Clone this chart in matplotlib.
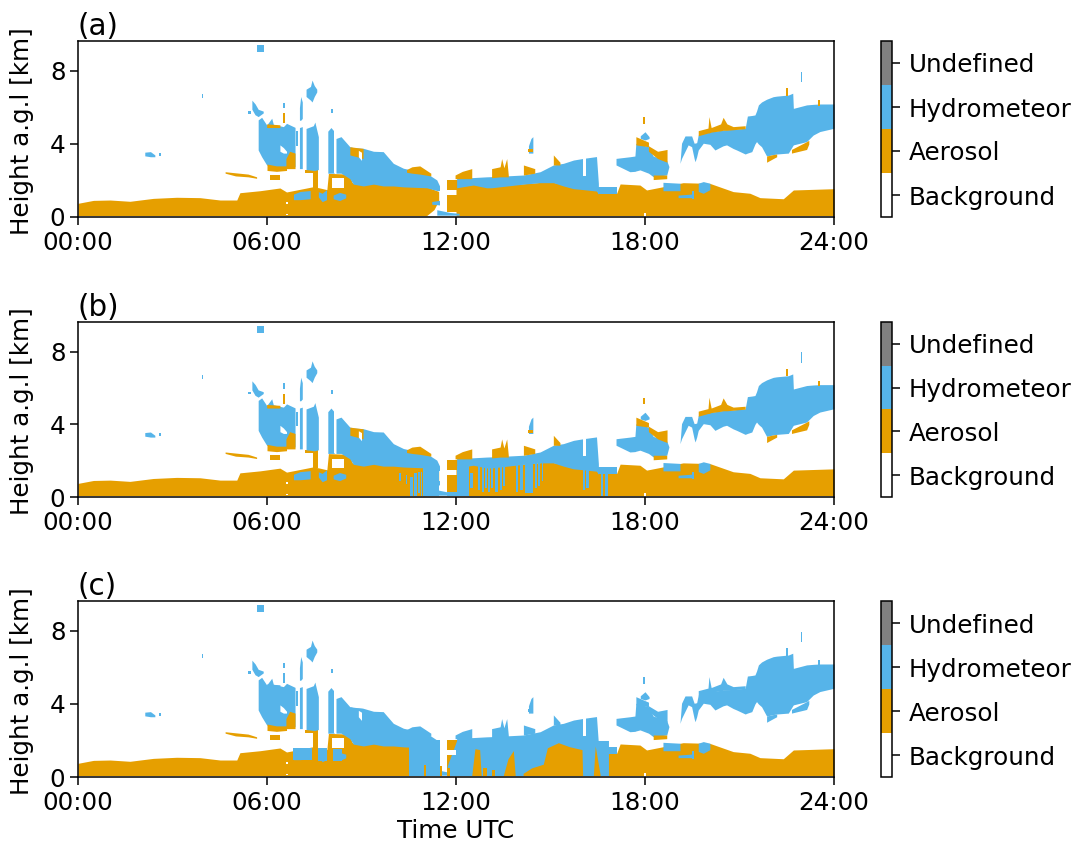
import matplotlib
matplotlib.use('Agg')
import matplotlib.pyplot as plt
from matplotlib.colors import ListedColormap, BoundaryNorm
from matplotlib.cm import ScalarMappable

class_labels = ['Background', 'Aerosol', 'Hydrometeor', 'Undefined']
class_colors = ['#FFFFFF', '#E69F00', '#56B4E9', '#808080']
hour_ticks = [0, 6, 12, 18, 24]
hour_labels = ['00:00', '06:00', '12:00', '18:00', '24:00']
height_ticks = [0, 4, 8]
panel_names = ['(a)', '(b)', '(c)']

# every layer below is a list of (hour, base km, top km)
boundary_morning = [(0, .08, .75), (.49, .08, .91), (1.02, .08, .93), (1.65, .08, .86), (2.39, .08, 1.02),
                    (3.13, .08, 1.08), (3.87, .08, 1.06), (4.51, .08, .93), (5.04, .08, .93), (5.14, .08, 1.33),
                    (5.78, .08, 1.44), (6.41, .08, 1.59), (6.62, .08, 1.37), (7.47, .08, 1.66), (7.65, .08, 1.6),
                    (7.9, .08, 1.5), (7.95, .08, 2.39), (8.6, .08, 2.35), (8.7, .08, 1.9), (8.74, .08, 1.84),
                    (9.38, .08, 1.84), (9.46, .08, 2.3), (9.55, .08, 1.85), (9.8, .08, 2.25), (9.9, .08, 1.8),
                    (10.01, .08, 1.75), (11.07, .08, 1.66), (11.3, .4, 1.5), (11.45, .9, 1.4)]
boundary_afternoon = [(12.0, .08, 1.66), (12.44, .08, 1.84), (12.97, .08, 1.66), (13.61, .08, 1.75), (14.99, .08, 1.94),
                      (15.94, .08, 1.57), (16.46, .08, 1.48), (16.52, .08, 1.3), (17.1, .08, 1.3), (17.21, .08, 1.81),
                      (17.84, .08, 1.75), (18.05, .08, 1.48), (18.58, .08, 1.66), (19.21, .08, 1.88), (20.06, .08, 1.84),
                      (20.8, .08, 1.39), (21.33, .08, 1.3), (21.65, .08, 1.06), (22.39, .08, 1.0), (22.71, .08, 1.48),
                      (23.98, .08, 1.55), (24, .08, 1.55)]
aerosol_near_noon_1 = [(11.7, 1.48, 2.03), (12.13, 1.48, 2.03)]
aerosol_near_noon_2 = [(11.7, .3, 1.2), (12.05, .3, 1.2)]
lofted_1 = [(4.67, 2.4, 2.48), (5.0, 2.25, 2.42), (5.4, 2.2, 2.35), (5.67, 2.12, 2.2)]
lofted_2 = [(6.1, 2.05, 2.3), (6.4, 2.05, 2.3)]
lofted_3 = [(7.2, 2.4, 2.58), (7.47, 2.4, 2.58)]
lofted_4 = [(7.47, 1.6, 2.58), (7.63, 1.6, 2.58)]
aerosol_under_1 = [(6.0, 2.55, 2.9), (6.3, 2.5, 2.8), (6.62, 2.55, 2.8)]
aerosol_under_2 = [(6.6, 2.65, 3.2), (6.72, 2.65, 3.6), (6.89, 2.65, 3.5)]
aerosol_under_3 = [(18.26, 2.05, 2.3), (18.69, 2.1, 2.3)]

cloud_speck_1 = [(2.12, 3.35, 3.55), (2.3, 3.3, 3.58), (2.44, 3.3, 3.4)]
cloud_speck_2 = [(2.58, 3.35, 3.5), (2.62, 3.35, 3.5)]
cloud_speck_3 = [(3.93, 6.52, 6.74), (3.98, 6.52, 6.74)]
cloud_speck_4 = [(5.69, 9.06, 9.42), (5.9, 9.06, 9.42)]
cloud_speck_5 = [(5.4, 5.65, 5.8), (5.48, 5.65, 5.8)]
cloud_speck_6 = [(5.52, 5.9, 6.4), (5.62, 5.6, 6.2), (5.72, 5.5, 5.9), (5.88, 5.7, 5.8)]
cloud_speck_7 = [(7.24, 6.6, 7.0), (7.38, 6.4, 7.15), (7.43, 6.3, 7.5), (7.5, 6.6, 7.2), (7.58, 6.85, 7.0)]
cloud_speck_8 = [(6.52, 5.95, 6.26), (6.57, 5.95, 6.26)]
cloud_speck_9 = [(7.03, 5.3, 6.0), (7.07, 5.3, 6.6), (7.12, 5.4, 6.3)]
cloud_speck_10 = [(8.02, 5.7, 5.9), (8.08, 5.7, 5.9)]
cloud_speck_11 = [(14.3, 3.5, 3.9), (14.38, 3.5, 4.3), (14.44, 3.5, 4.4)]
cloud_block = [(5.72, 3.67, 5.32), (5.83, 3.3, 5.46), (5.99, 2.85, 5.04), (6.15, 2.75, 5.41), (6.2, 2.72, 5.08),
               (6.52, 2.72, 4.95), (6.62, 2.76, 5.13), (6.89, 2.76, 4.91)]
cloud_column_1 = [(6.93, 3.9, 4.7), (6.97, 3.9, 4.7)]
cloud_column_2 = [(7.03, 2.65, 4.9), (7.12, 2.65, 4.95)]
cloud_column_3 = [(7.24, 2.6, 4.85), (7.47, 2.55, 5.0), (7.52, 2.55, 5.2), (7.63, 2.6, 4.4)]
cloud_column_4 = [(7.93, 2.4, 4.7), (8.03, 2.4, 4.9), (8.13, 2.4, 4.7)]
cloud_morning = [(8.19, 2.4, 4.3), (8.35, 2.4, 4.4), (8.63, 2.1, 3.85), (8.74, 1.8, 3.8), (9.06, 1.7, 3.76),
                 (9.38, 1.8, 3.6), (9.69, 1.7, 3.58), (10.01, 1.7, 2.94), (10.33, 1.65, 2.67), (11.07, 1.6, 2.39),
                 (11.39, 1.45, 2.03), (11.49, 1.45, 1.66)]
cloud_midday = [(12.02, 1.6, 2.12), (12.55, 1.75, 2.16), (12.97, 1.6, 2.2), (13.13, 1.6, 2.21), (14.14, 1.8, 2.3),
                (14.67, 1.88, 2.48), (15.09, 1.88, 2.85), (15.41, 1.7, 2.94), (15.73, 1.55, 3.12), (16.04, 1.5, 3.21),
                (16.46, 1.42, 3.31), (16.52, 1.25, 1.84)]
cloud_midday_tail = [(16.52, 1.25, 1.66), (17.1, 1.25, 1.66)]
cloud_evening = [(17.08, 2.85, 3.21), (17.52, 2.48, 3.3), (17.68, 2.5, 3.34), (17.71, 2.52, 4.04), (17.84, 2.58, 3.98),
                 (18.11, 2.4, 3.85), (18.26, 2.21, 3.34), (18.69, 2.3, 3.09), (18.76, 2.76, 2.76)]
cloud_evening_top = [(17.85, 4.3, 4.45), (18.0, 4.22, 4.67), (18.13, 4.3, 4.4)]
cloud_night = [(19.11, 2.94, 2.94), (19.16, 3.21, 4.04), (19.27, 3.6, 4.44), (19.37, 3.95, 4.44), (19.48, 3.85, 4.44),
               (19.56, 3.2, 4.04), (19.59, 3.03, 4.05), (19.64, 3.3, 4.07), (19.69, 3.67, 4.49), (19.85, 4.04, 4.6),
               (20.06, 3.98, 4.68), (20.22, 3.67, 4.7), (20.48, 3.9, 4.77), (20.59, 3.95, 4.78), (20.8, 3.75, 4.8),
               (20.91, 3.67, 4.82), (21.18, 3.45, 4.86), (21.25, 3.5, 5.53), (21.39, 3.58, 5.56), (21.49, 4.0, 5.59),
               (21.54, 4.13, 5.8), (21.6, 4.0, 6.14), (21.7, 3.85, 6.3), (21.86, 3.34, 6.45), (22.07, 3.42, 6.59),
               (22.18, 3.45, 6.62), (22.55, 3.5, 6.68), (22.69, 3.9, 6.78), (22.71, 3.95, 5.95), (23.13, 4.13, 6.14),
               (23.34, 4.49, 6.17), (23.55, 4.68, 6.19), (24, 4.86, 6.19)]
cloud_sliver = [(22.94, 7.4, 7.96), (22.99, 7.4, 7.96)]
cloud_low_1 = [(6.84, .95, 1.25), (7.05, .95, 1.4), (7.37, 1.0, 1.45)]
cloud_low_2 = [(7.63, 1.1, 1.39), (7.75, .84, 1.3), (7.89, .95, 1.5)]
cloud_low_3 = [(8.1, 1.0, 1.2), (8.3, .9, 1.35), (8.5, 1.05, 1.25)]
cloud_low_4 = [(11.23, .7, .85), (11.55, .65, .93)]
cloud_low_5 = [(11.39, .1, .4), (11.8, .1, .25), (12.1, .1, .2)]
cloud_low_6 = [(18.57, 1.44, 1.9), (19.11, 1.44, 1.85)]
cloud_low_7 = [(19.69, 1.4, 1.85), (19.85, 1.3, 1.94), (20.06, 1.5, 1.85)]
cloud_low_8 = [(19.05, 1.06, 1.2), (19.5, 1.06, 1.26)]
cloud_low_9 = [(19.5, 1.0, 1.4), (19.56, 1.0, 1.4)]

cap_1 = [(8.63, 3.4, 3.85), (8.85, 3.3, 3.8), (9.05, 3.2, 3.76)]
cap_2 = [(10.43, 2.45, 2.6), (10.6, 2.4, 2.75), (10.85, 2.35, 2.8), (11.2, 2.25, 2.4)]
cap_3 = [(5.99, 4.9, 5.1), (6.41, 4.9, 5.05)]
cap_4 = [(6.51, 5.13, 5.68), (6.57, 5.13, 5.68)]
cap_5 = [(11.97, 2.1, 2.3), (12.2, 2.1, 2.5), (12.5, 2.1, 2.65)]
cap_6 = [(13.13, 2.15, 2.65), (13.4, 2.2, 2.75), (13.45, 2.2, 3.2), (13.52, 2.2, 2.7), (13.61, 2.2, 3.2), (13.66, 2.2, 2.3)]
cap_7 = [(14.14, 2.3, 2.85), (14.5, 2.4, 2.65)]
cap_8 = [(15.09, 2.85, 3.4), (15.3, 2.85, 3.0)]
cap_9 = [(14.3, 3.55, 3.7), (14.45, 3.55, 3.7)]
cap_10 = [(17.71, 3.95, 4.4), (18.11, 3.85, 4.1)]
cap_11 = [(18.11, 3.6, 3.9), (18.4, 3.2, 3.6), (18.7, 3.0, 3.7)]
cap_12 = [(17.95, 5.1, 5.45), (17.99, 5.1, 5.45)]
cap_13 = [(19.69, 4.45, 4.73), (20.0, 4.6, 4.87), (20.03, 4.6, 5.5), (20.1, 4.65, 4.9), (20.4, 4.72, 5.1),
          (20.48, 4.75, 5.46), (20.6, 4.75, 5.1), (20.8, 4.78, 4.95), (21.18, 4.84, 5.0)]
cap_14 = [(21.86, 3.0, 3.34), (22.07, 3.2, 3.42), (22.18, 3.3, 3.45)]
cap_15 = [(22.65, 3.5, 3.7), (23.13, 3.7, 4.13), (23.2, 4.0, 4.2)]
cap_16 = [(22.48, 6.65, 7.05), (22.53, 6.65, 7.05)]
cap_17 = [(23.5, 6.1, 6.4), (23.56, 6.1, 6.4)]

hole_1 = [(6.41, 3.6, 3.95), (6.52, 3.5, 3.8), (6.62, 3.5, 3.6)]
hole_2 = [(8.05, 1.57, 2.12), (8.43, 1.57, 2.12)]
hole_3 = [(8.9, 3.3, 3.65), (9.0, 3.1, 3.55)]
hole_4 = [(11.5, .6, 2.3), (11.72, .6, 2.3)]
hole_5 = [(11.72, 1.2, 1.48), (12.0, 1.2, 1.48)]
hole_6 = [(16.04, 2.25, 3.21), (16.12, 2.25, 3.21)]
hole_7 = [(6.6, .1, .15), (6.66, .1, .15)]
hole_8 = [(6.6, .72, .8), (6.66, .72, .8)]
hole_9 = [(17.97, .08, .2), (18.02, .08, .2)]
hole_10 = [(7.0, 2.7, 4.95), (7.03, 2.7, 4.95)]
hole_11 = [(8.13, 2.4, 4.9), (8.19, 2.4, 4.9)]

# (b): hydrometeor streaks reaching down through the aerosol layer
streak_start = [10.2, 10.4, 10.54, 10.67, 10.8, 10.9, 10.96, 11.72, 12.02, 12.46,
                12.71, 12.82, 12.92, 13.03, 13.12, 13.24, 13.4, 13.5, 13.92, 14.02, 14.19, 14.51, 14.6,
                14.72, 16.04, 16.14, 16.59, 16.72]
streak_end = [10.24, 10.44, 10.62, 10.75, 10.86, 10.93, 11.46, 12.02, 12.42, 12.53,
              12.76, 12.88, 12.97, 13.08, 13.19, 13.34, 13.46, 13.56, 13.98, 14.13, 14.46, 14.56, 14.67,
              14.77, 16.1, 16.23, 16.66, 16.84]
streak_top = [1.3, 1.2, 1.11, 1.3, 1.39, 1.39, 1.66, .3, 1.7, 1.3,
              1.7, 1.7, 1.7, 1.7, 1.7, 1.75, 1.75, 1.75, 1.8, 1.8, 1.85, 1.9, 1.9,
              1.9, 1.6, 1.6, 1.45, 1.45]
streak_bottom = [.9, .7, .08, .08, .2, .08, .08, .08, .08, .5,
                 .4, .3, .5, .3, .5, .3, .4, .6, .3, .4, .2, .5, .6,
                 .9, .4, .5, .08, .08]

# (c): hydrometeor replaces most of the aerosol under the midday cloud
sheet_1 = [(10.5, .08, 2.0), (11.49, .08, 2.0)]
sheet_2 = [(11.72, .08, .6), (12.02, .08, 2.0), (16.84, .08, 2.0)]
sheet_3 = [(6.84, .95, 1.6), (7.42, .95, 1.6)]
sheet_4 = [(7.63, .85, 1.6), (7.9, .85, 1.6)]
sheet_5 = [(8.08, .9, 1.55), (8.37, .9, 1.55)]
spike_1 = [(12.5, .08, .08), (12.6, .08, 1.55), (12.75, .08, 1.5), (12.8, .08, .08)]
spike_2 = [(12.87, .08, .47), (12.97, .08, .47)]
spike_3 = [(13.13, .08, .38), (13.24, .08, .38)]
spike_4 = [(13.5, .08, .08), (13.65, .08, 1.0), (13.82, .08, 1.45), (13.88, .08, .08)]
spike_5 = [(14.13, .08, .2), (14.4, .08, .5), (14.77, .08, .7), (14.9, .08, 1.6), (15.25, .08, 1.88),
           (15.6, .08, 1.66), (16.0, .08, 1.5), (16.02, .08, .08)]
spike_6 = [(16.36, .08, .08), (16.42, .08, 1.7), (16.58, .08, .08)]
spike_7 = [(11.0, .08, .66), (11.06, .08, .66)]
spike_8 = [(11.49, .08, 1.85), (11.55, .08, 1.85)]
spike_9 = [(11.7, .08, .47), (11.8, .08, .47)]

aerosol_shared = [boundary_morning, boundary_afternoon, aerosol_near_noon_1, aerosol_near_noon_2, lofted_1,
                  lofted_2, lofted_3, lofted_4]
aerosol_under = [aerosol_under_1, aerosol_under_2, aerosol_under_3]
hydro_shared = [cloud_speck_1, cloud_speck_2, cloud_speck_3, cloud_speck_4, cloud_speck_5, cloud_speck_6,
                cloud_speck_7, cloud_speck_8, cloud_speck_9, cloud_speck_10, cloud_speck_11, cloud_block, cloud_column_1,
                cloud_column_2, cloud_column_3, cloud_column_4, cloud_morning, cloud_midday, cloud_midday_tail,
                cloud_evening, cloud_evening_top, cloud_night, cloud_sliver, cloud_low_1, cloud_low_2, cloud_low_3,
                cloud_low_4, cloud_low_5, cloud_low_6, cloud_low_7, cloud_low_8, cloud_low_9]
caps = [cap_1, cap_2, cap_3, cap_4, cap_5, cap_6, cap_7, cap_8, cap_9, cap_10, cap_11, cap_12, cap_13, cap_14,
        cap_15, cap_16, cap_17]
holes = [hole_1, hole_2, hole_3, hole_4, hole_5, hole_6, hole_7, hole_8, hole_9, hole_10, hole_11]
sheets = [sheet_1, sheet_2, sheet_3, sheet_4, sheet_5]
spikes = [spike_1, spike_2, spike_3, spike_4, spike_5, spike_6, spike_7, spike_8, spike_9]

plt.rcParams['font.size'] = 17.7
plt.rcParams['axes.linewidth'] = 1.1
plt.rcParams['xtick.major.width'] = 1.1
plt.rcParams['ytick.major.width'] = 1.1
plt.rcParams['xtick.major.size'] = 5.5
plt.rcParams['ytick.major.size'] = 5.5
plt.rcParams['xtick.major.pad'] = 4.5

W, H = 1080, 855
fig = plt.figure(figsize=(W / 100, H / 100), dpi=100)


def draw_layers(ax, layers, color):
    for rows in layers:
        t, lo, hi = zip(*rows)
        ax.fill_between(t, lo, hi, color=color, lw=0)


aerosol, hydro = class_colors[1], class_colors[2]
panel_tops = [41, 322, 601]
panel_bottoms = [217, 497, 777]

cmap = ListedColormap(class_colors)
norm = BoundaryNorm([-.5, .5, 1.5, 2.5, 3.5], cmap.N)

for i, name in enumerate(panel_names):
    top, bottom = panel_tops[i], panel_bottoms[i]
    ax = fig.add_axes([78 / W, 1 - bottom / H, (834 - 78) / W, (bottom - top) / H])
    draw_layers(ax, aerosol_shared, aerosol)
    draw_layers(ax, hydro_shared, hydro)
    if i < 2:
        draw_layers(ax, caps, aerosol)
        draw_layers(ax, aerosol_under, aerosol)
    else:
        draw_layers(ax, caps, hydro)
        draw_layers(ax, sheets, hydro)
        draw_layers(ax, spikes, aerosol)
        draw_layers(ax, aerosol_under, aerosol)
    if i == 1:
        for t0, t1, b, h in zip(streak_start, streak_end, streak_bottom, streak_top):
            ax.fill_between([t0, t1], [b, b], [h, h], color=hydro, lw=0)
    draw_layers(ax, holes, class_colors[0])

    ax.set_xlim(0, 24)
    ax.set_ylim(0, 9.64)
    ax.set_xticks(hour_ticks)
    ax.set_xticklabels(hour_labels)
    ax.set_yticks(height_ticks)
    ax.set_ylabel('Height a.g.l [km]')
    ax.yaxis.set_label_coords(-0.058, 0.49)
    ax.set_title(name, loc='left', pad=2)
    if i == 2:
        ax.set_xlabel('Time UTC', labelpad=3)

    cax = fig.add_axes([881 / W, 1 - bottom / H, 11 / W, (bottom - top) / H])
    cb = fig.colorbar(ScalarMappable(norm=norm, cmap=cmap), cax=cax, ticks=[0, 1, 2, 3])
    cb.ax.set_yticklabels(class_labels)
    cb.ax.minorticks_off()
    cb.ax.tick_params(length=5.5, width=1.1, pad=6.5)
    cb.outline.set_linewidth(1.1)

fig.savefig('out.png', dpi=100)
